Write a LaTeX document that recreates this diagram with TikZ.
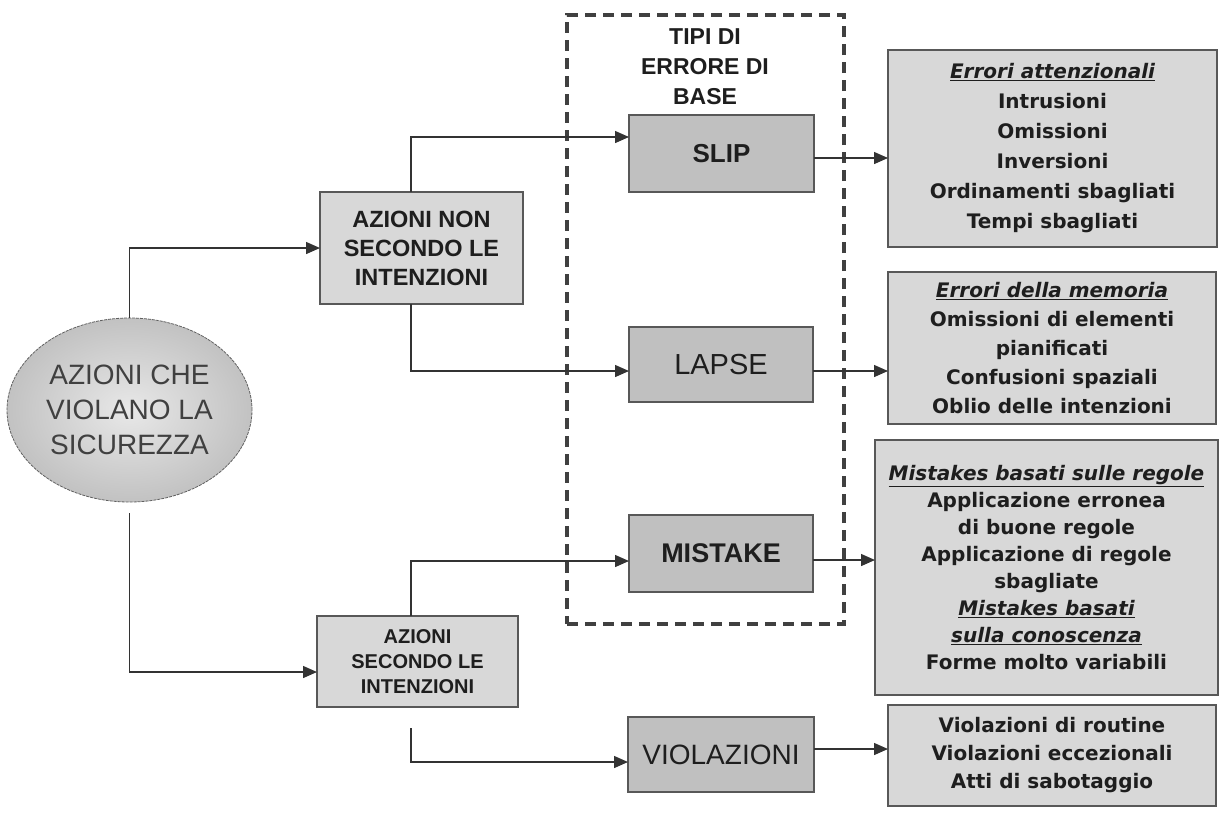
\documentclass[tikz,border=0pt]{standalone}
\usepackage{fontspec}
\setmainfont{Liberation Sans}
\newfontfamily\dvfont{DejaVu Sans}
\usetikzlibrary{arrows.meta,shapes.geometric,calc}
\definecolor{txt}{HTML}{1E1E1E}
\definecolor{boxlight}{HTML}{D8D8D8}
\definecolor{boxmid}{HTML}{C0C0C0}
\definecolor{edgecol}{HTML}{585858}
\definecolor{wirecol}{HTML}{333333}
\begin{document}
\begin{tikzpicture}[x=1pt,y=-1pt,
  box/.style={draw=edgecol, line width=1.8pt, fill=boxlight, inner sep=0pt, outer sep=0pt, text=txt, align=center},
  midbox/.style={box, fill=boxmid},
  wire/.style={draw=wirecol, line width=1.4pt},
  arr/.style={wire, -{Triangle[length=14pt,width=12pt]}},
  rbox/.style={box, font=\dvfont\bfseries\fontsize{20}{#1}\selectfont},
  rbox/.default=30
]
\useasboundingbox (0,0) rectangle (1219,812);

% dashed group frame
\node[draw=txt!85, line width=3.2pt, dash pattern=on 11pt off 7pt, minimum width=277pt, minimum height=609pt, inner sep=0pt] (grp) at (705.5,319.5) {};
\node[font=\bfseries\fontsize{23}{30}\selectfont, text=txt, align=center] (tipi) at (705,67) {TIPI DI\\ERRORE DI\\BASE};

% ellipse
\node[ellipse, draw=gray!75!black, line width=0.8pt, dash pattern=on 3pt off 1pt, inner color=gray!18, outer color=gray!48, minimum width=245pt, minimum height=184pt, inner sep=0pt, text=txt!85, align=center, font=\fontsize{28}{35}\selectfont] (e) at (129.5,410) {AZIONI CHE\\VIOLANO LA\\SICUREZZA};

% left boxes
\node[box, minimum width=203pt, minimum height=112pt, font=\bfseries\fontsize{23.5}{29}\selectfont] (n1) at (421.5,248) {AZIONI NON\\SECONDO LE\\INTENZIONI};
\node[box, minimum width=201pt, minimum height=91pt, font=\bfseries\fontsize{20}{25}\selectfont] (n2) at (417.5,661.5) {AZIONI\\SECONDO LE\\INTENZIONI};

% middle boxes
\node[midbox, minimum width=185pt, minimum height=77pt, font=\bfseries\fontsize{26}{30}\selectfont] (slip) at (721.5,153.5) {SLIP};
\node[midbox, minimum width=184pt, minimum height=75pt, font=\fontsize{29}{32}\selectfont] (lapse) at (721,364.5) {LAPSE};
\node[midbox, minimum width=184pt, minimum height=77pt, font=\bfseries\fontsize{27}{30}\selectfont] (mistake) at (721,553.5) {MISTAKE};
\node[midbox, minimum width=186pt, minimum height=75pt, font=\fontsize{28}{30}\selectfont] (viol) at (721,754.5) {VIOLAZIONI};

% right boxes
\node[rbox=30, minimum width=329pt, minimum height=197pt] (r1) at (1052.5,148.5)
  {\textit{\underline{Errori attenzionali}}\\Intrusioni\\Omissioni\\Inversioni\\Ordinamenti sbagliati\\Tempi sbagliati};
\node[rbox=29, minimum width=328pt, minimum height=152pt] (r2) at (1052,348)
  {\textit{\underline{Errori della memoria}}\\Omissioni di elementi\\pianificati\\Confusioni spaziali\\Oblio delle intenzioni};
\node[rbox=27, minimum width=343pt, minimum height=255pt] (r3) at (1046.5,567.5)
  {\textit{\underline{Mistakes basati sulle regole}}\\Applicazione erronea\\di buone regole\\Applicazione di regole\\sbagliate\\\textit{\underline{Mistakes basati}}\\\textit{\underline{sulla conoscenza}}\\Forme molto variabili};
\node[rbox=28, minimum width=328pt, minimum height=101pt] (r4) at (1052,755.5)
  {Violazioni di routine\\Violazioni eccezionali\\Atti di sabotaggio};

% turn points
\coordinate (c1) at (129.5,248);
\coordinate (c2) at (129.5,672);
\coordinate (c3) at (411,137);
\coordinate (c4) at (411,371);
\coordinate (c5) at (411,561);
\coordinate (c6) at (411,762);
\coordinate (d1) at (0,158);
\coordinate (d2) at (0,371);
\coordinate (d3) at (0,560);
\coordinate (d4) at (0,749);

% connectors from ellipse
\draw[arr] (e.north) -- (c1) -- (n1.west);
\draw[arr] ($(e.south)+(0,11)$) -- (c2) -- (n2.west |- c2);

% connectors to middle boxes
\draw[arr] (n1.north -| c3) -- (c3) -- (slip.west |- c3);
\draw[arr] (n1.south -| c4) -- (c4) -- (lapse.west |- c4);
\draw[arr] (n2.north -| c5) -- (c5) -- (mistake.west |- c5);
\draw[arr] ($(n2.south -| c6)+(0,21)$) -- (c6) -- (viol.west |- c6);

% connectors to right boxes
\draw[arr] (slip.east |- d1) -- (r1.west |- d1);
\draw[arr] (lapse.east |- d2) -- (r2.west |- d2);
\draw[arr] (mistake.east |- d3) -- (r3.west |- d3);
\draw[arr] (viol.east |- d4) -- (r4.west |- d4);
\end{tikzpicture}
\end{document}
